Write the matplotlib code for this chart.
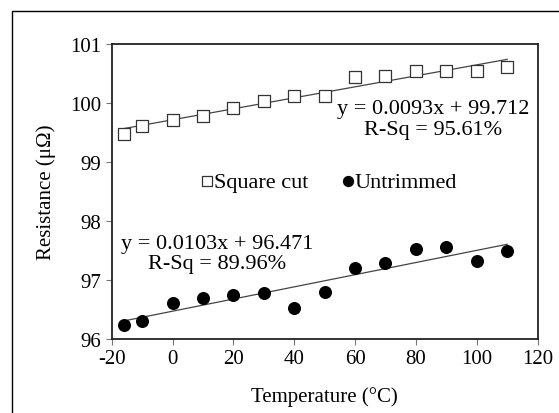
import matplotlib
matplotlib.use('Agg')
import matplotlib.pyplot as plt
from matplotlib.patches import Rectangle
import numpy as np

# temperature (deg C)
temp = [-16, -10, 0, 10, 20, 30, 40, 50, 60, 70, 80, 90, 100, 110]
# resistance (micro-ohm)
square_cut = [99.47, 99.60, 99.71, 99.78, 99.91, 100.03, 100.12, 100.12,
              100.44, 100.45, 100.54, 100.54, 100.54, 100.61]
untrimmed = [96.23, 96.30, 96.61, 96.70, 96.74, 96.78, 96.52, 96.80,
             97.20, 97.29, 97.52, 97.55, 97.32, 97.49]

# trend line coefficients as printed on the chart
sq_fit = (0.0093, 99.712)
un_fit = (0.0103, 96.471)
sq_r2 = '95.61%'
un_r2 = '89.96%'

plt.rc('font', family='Liberation Serif', size=15)
plt.rc('axes', unicode_minus=False)

fig = plt.figure(figsize=(5.59, 4.14), dpi=100)
ax = fig.add_axes([0.1998, 0.1787, 0.7618, 0.7133])

# outer frame (only top/left visible in the original)
fig.patches.append(Rectangle((12/559., -0.1), 1.2, 1.1 - 12/414., transform=fig.transFigure,
                             fill=False, edgecolor='black', linewidth=1.0))

t = np.array([temp[0], temp[-1]])
ax.plot(t, sq_fit[0]*t + sq_fit[1], color='#444444', linewidth=0.9)
ax.plot(t, un_fit[0]*t + un_fit[1], color='#444444', linewidth=0.9)

ax.scatter(temp, square_cut, marker='s', s=75, facecolor='white', edgecolor='#333333',
           linewidth=0.9, zorder=3, label='Square cut')
ax.scatter(temp, untrimmed, marker='o', s=70, facecolor='black', edgecolor='black',
           zorder=3, label='Untrimmed')

ax.set_xlim(-20, 120)
ax.set_ylim(96, 101)

ax.text(0.755, 0.745, 'y = %.4fx + %.3f\nR-Sq = %s' % (sq_fit[0], sq_fit[1], sq_r2),
        transform=ax.transAxes, ha='center', va='center', fontsize=16, linespacing=1.1)
ax.text(0.247, 0.29, 'y = %.4fx + %.3f\nR-Sq = %s' % (un_fit[0], un_fit[1], un_r2),
        transform=ax.transAxes, ha='center', va='center', fontsize=16, linespacing=1.1)

ax.legend(loc='center', bbox_to_anchor=(0.51, 0.532), ncol=2, frameon=False,
          handletextpad=0.05, columnspacing=1.5, markerscale=0.85, fontsize=16,
          handlelength=0.55, borderpad=0)

ax.set_xticks(range(-20, 121, 20))
ax.set_yticks(range(96, 102))
ax.tick_params(direction='out', length=4, width=0.8, color='#777777', labelsize=15)
for s in ax.spines.values():
    s.set_linewidth(1.3)
    s.set_color('#222222')

ax.set_xlabel('Temperature (°C)', fontsize=15, labelpad=13)
ax.set_ylabel('Resistance (μΩ)', fontsize=15, labelpad=10)

fig.savefig('out.png', dpi=100)
